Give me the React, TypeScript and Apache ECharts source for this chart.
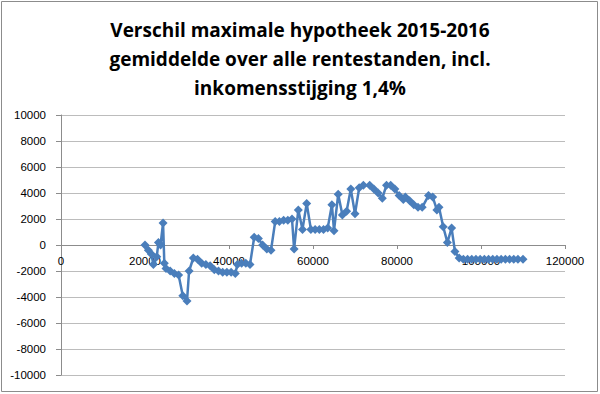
import React, { useEffect, useRef } from "react";
import * as echarts from "echarts";

const titleLines = [
  "Verschil maximale hypotheek 2015-2016",
  "gemiddelde over alle rentestanden, incl.",
  "inkomensstijging 1,4%",
];

const incomes = [
  20000, 20800, 21500, 22000, 22800, 23200, 23700, 24300, 24600, 25000,
  26000, 27000, 28000, 29000, 30000, 30500, 31500, 32500, 33500, 34500,
  35500, 36500, 37500, 38500, 39500, 40500, 41500, 42000, 43000, 44000,
  45000, 46000, 47000, 48000, 49000, 50000, 51000, 52000, 53000, 54000,
  55000, 55500, 56500, 57500, 58500, 59500, 60500, 61500, 62500, 63500,
  64500, 65000, 66000, 67000, 68000, 69000, 70000, 71000, 72000, 73500,
  74500, 75500, 76500, 77500, 78500, 79500, 80500, 81500, 82000, 83000,
  84000, 85000, 86000, 87500, 88500, 89500, 90000, 91000, 92000, 93000,
  93800, 94800, 95800, 96800, 97800, 98800, 99800, 100800, 101800, 102800,
  103800, 104800, 105800, 106800, 107800, 108800, 110000,
];

const differences = [
  0, -400, -700, -1500, -900, 200, 0, 1700, -1400, -1800,
  -2000, -2200, -2300, -3900, -4300, -2000, -1000, -1100, -1400, -1500,
  -1600, -1900, -2000, -2100, -2100, -2100, -2200, -1500, -1400, -1400,
  -1500, 600, 500, 0, -300, -400, 1800, 1800, 1900, 1900,
  2000, -300, 2700, 1200, 3200, 1200, 1200, 1200, 1200, 1300,
  3100, 1100, 3900, 2300, 2600, 4300, 2400, 4400, 4600, 4600,
  4300, 4000, 3600, 4600, 4600, 4300, 3800, 3500, 3700, 3400,
  3100, 2900, 2900, 3800, 3700, 2700, 2900, 1400, 200, 1300,
  -500, -1000, -1100, -1100, -1100, -1100, -1100, -1100, -1100, -1100,
  -1100, -1100, -1100, -1100, -1100, -1100, -1100,
];

export default function App() {
  const ref = useRef<HTMLDivElement>(null);
  useEffect(() => {
    document.body.style.margin = "0";
    const chart = echarts.init(ref.current!, undefined, { renderer: "svg" });
    const data = incomes.map((x, i) => [x, differences[i]]);
    const plain = (v: number) => String(v);
    chart.setOption({
      animation: false,
      backgroundColor: "#ffffff",
      title: {
        text: titleLines.join("\n"),
        left: "center",
        top: 10,
        padding: [5, 0, 5, 6],
        textStyle: {
          fontFamily: "Open Sans",
          fontWeight: "bold",
          fontSize: 19,
          lineHeight: 29,
          color: "#000000",
        },
      },
      graphic: [
        {
          type: "rect",
          shape: { x: 1.5, y: 1.5, width: 596, height: 390 },
          style: { fill: "none", stroke: "#8c8c8c", lineWidth: 1 },
          silent: true,
        },
      ],
      grid: { left: 61, right: 35, top: 115, bottom: 19 },
      xAxis: {
        type: "value",
        min: 0,
        max: 120000,
        interval: 20000,
        offset: -130,
        axisLine: { onZero: false, lineStyle: { color: "#8c8c8c", width: 1 } },
        axisTick: { show: true, length: 4, lineStyle: { color: "#8c8c8c" } },
        axisLabel: {
          margin: 10,
          formatter: plain,
          fontFamily: "Liberation Sans",
          fontSize: 11.5,
          color: "#000000",
        },
        splitLine: { show: false },
      },
      yAxis: {
        type: "value",
        min: -10000,
        max: 10000,
        interval: 2000,
        axisLine: { show: true, onZero: false, lineStyle: { color: "#8c8c8c", width: 1 } },
        axisTick: { show: true, length: 5, lineStyle: { color: "#8c8c8c" } },
        axisLabel: {
          margin: 15,
          formatter: plain,
          fontFamily: "Liberation Sans",
          fontSize: 11.5,
          color: "#000000",
        },
        splitLine: { show: true, lineStyle: { color: "#bcbcbc", width: 1 } },
      },
      series: [
        {
          type: "line",
          data,
          symbol: "diamond",
          symbolSize: 9,
          showAllSymbol: true,
          lineStyle: { color: "#4a7ebb", width: 2.5 },
          itemStyle: { color: "#4a7ebb" },
        },
      ],
    });
    return () => chart.dispose();
  }, []);
  return (
    <div
      ref={ref}
      style={{ position: "absolute", left: 0, top: 0, width: 600, height: 394 }}
    />
  );
}
